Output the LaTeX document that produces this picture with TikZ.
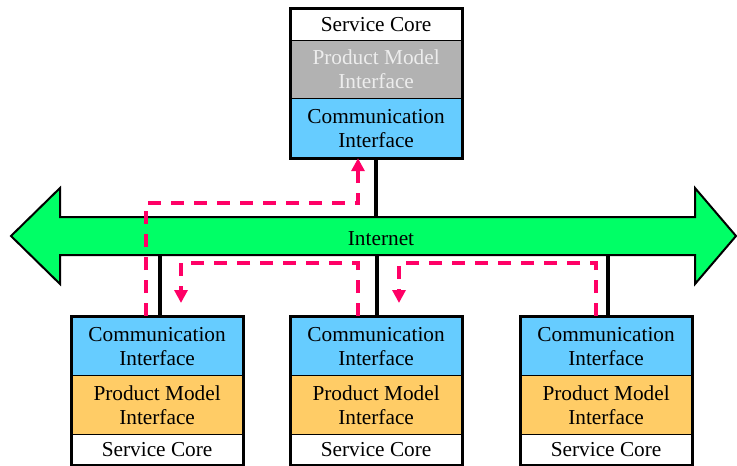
\documentclass[tikz,border=0pt]{standalone}
\usepackage{fontspec}
\setmainfont{Liberation Serif}
\usetikzlibrary{arrows.meta,calc}
\definecolor{ciblue}{HTML}{66CCFF}
\definecolor{pmorange}{HTML}{FFCC66}
\definecolor{pmgray}{HTML}{B2B2B2}
\definecolor{netgreen}{HTML}{00FF66}
\definecolor{flowpink}{HTML}{FF0066}
\tikzset{
  sec/.style={draw=black, line width=1.2pt, minimum width=171pt, inner sep=0pt,
    align=center, font=\fontsize{21.3}{24}\selectfont, anchor=north west},
  frame/.style={draw=black, line width=3pt},
  link/.style={draw=black, line width=4.5pt},
  flow/.style={draw=flowpink, line width=3.2pt, dash pattern=on 13pt off 10pt,
    -{Triangle[length=13pt,width=13pt]}},
}
\begin{document}
\begin{tikzpicture}[x=1pt,y=-1pt]
\useasboundingbox (0,0) rectangle (737,466);
% internet arrow
\draw[fill=netgreen, line width=2pt, line join=miter]
  (11,236) -- (60,188) -- (60,217) -- (695,217) -- (695,188) -- (736,236)
  -- (695,284) -- (695,255) -- (60,255) -- (60,284) -- cycle;
\node[font=\fontsize{21.3}{24}\selectfont] (net) at (381,239) {Internet};
\coordinate (nettop) at (0,217);
\coordinate (netbot) at (0,255);
% top box
\node[sec, fill=white, minimum height=32pt] (tsc) at (290,8) {Service Core};
\node[sec, fill=pmgray, text=white!93!black, minimum height=58pt] (tpm) at (290,40) {Product Model\\Interface};
\node[sec, fill=ciblue, minimum height=59pt] (tci) at (290,98) {Communication\\Interface};
\draw[frame] (tsc.north west) rectangle (tci.south east);
% bottom boxes
\foreach \n/\x in {a/71, b/290, c/520}{
  \node[sec, fill=ciblue, minimum height=59pt] (\n ci) at (\x,316) {Communication\\Interface};
  \node[sec, fill=pmorange, minimum height=59pt] (\n pm) at (\x,375) {Product Model\\Interface};
  \node[sec, fill=white, minimum height=30pt] (\n sc) at (\x,434) {Service Core};
  \draw[frame] (\n ci.north west) rectangle (\n sc.south east);
}
% links to internet
\draw[link] (tci.south) -- (tci.south |- nettop);
\draw[link] (aci.north) ++(3,0) coordinate (al) -- (al |- netbot);
\draw[link] (bci.north) ++(1,0) coordinate (bl) -- (bl |- netbot);
\draw[link] (cci.north) ++(2,0) coordinate (cl) -- (cl |- netbot);
% message flows
\draw[flow] (146,0 |- aci.north) -- (146,203) -- (358,203) -- (358,0 |- tci.south);
\draw[flow] (358,0 |- bci.north) -- (358,263) -- (181,263) -- (181,303);
\draw[flow] (596,0 |- cci.north) -- (596,263) -- (399,263) -- (399,303);
\end{tikzpicture}
\end{document}
